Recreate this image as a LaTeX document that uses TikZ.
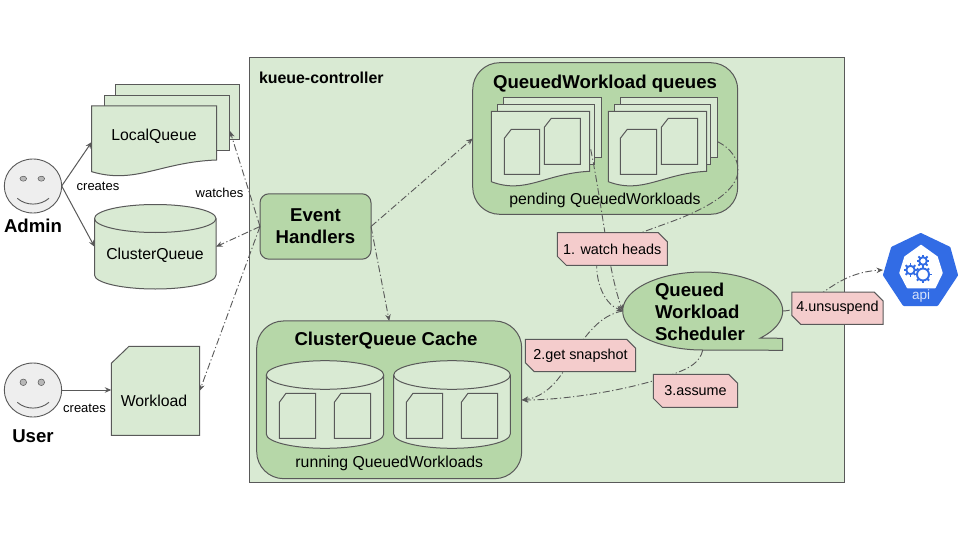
\documentclass[tikz,border=0pt]{standalone}
\usepackage{fontspec}
\setmainfont{Liberation Sans}
\usetikzlibrary{arrows.meta,shapes.geometric,shapes.misc}
\definecolor{paleg}{HTML}{D9EAD3}
\definecolor{midg}{HTML}{B6D7A8}
\definecolor{pinkb}{HTML}{F4CCCC}
\definecolor{faceg}{HTML}{EEEEEE}
\definecolor{eyeg}{HTML}{B7B7B7}
\definecolor{linec}{HTML}{595959}
\definecolor{kblue}{HTML}{326CE5}
\tikzset{
  shapeline/.style={draw=linec,line width=1pt,line join=miter},
  frame/.style={rectangle,draw=none,inner sep=0pt,outer sep=0pt,minimum width=#1},
  txt/.style={inner sep=0pt,outer sep=0pt,text=black},
  small/.style={txt,font=\fontsize{13}{15}\selectfont},
  body/.style={txt,font=\fontsize{15.8}{19}\selectfont},
  head/.style={txt,font=\fontsize{18.6}{22}\selectfont\bfseries},
  roundbox/.style={rectangle,rounded corners=#1,draw=linec,line width=1pt,fill=midg,inner sep=0pt,outer sep=0pt},
  face/.style={ellipse,draw=linec,line width=0.9pt,fill=faceg,inner sep=0pt,outer sep=0pt,minimum width=57.4pt,minimum height=54pt},
  eye/.style={ellipse,draw=linec,line width=0.5pt,fill=eyeg,inner sep=0pt,outer sep=0pt,minimum width=6.6pt,minimum height=#1},
  solidarrow/.style={draw=linec,line width=1pt,-{Stealth[length=6.5pt,width=5.5pt]}},
  dd/.style={draw=linec,line width=0.9pt,dash pattern=on 7pt off 2.5pt on 1.2pt off 2.5pt,-{Stealth[length=6.5pt,width=5.5pt]}},
  tag/.style={chamfered rectangle,chamfered rectangle corners={north east,south west},chamfered rectangle xsep=4.5pt,chamfered rectangle ysep=4.5pt,draw=linec,line width=1pt,fill=pinkb,inner sep=0pt,outer sep=0pt,font=\fontsize{14.4}{17}\selectfont,text=black},
}
% wavy document: x0 x1 ytop yright yleft fill
\newcommand\wavedoc[6]{\path[shapeline,fill=#6] (#1,#5) -- (#1,#3) -- (#2,#3) -- (#2,#4) .. controls ({#1+0.55*(#2-#1)},{#4+2}) and ({#1+0.35*(#2-#1)},{#5+13}) .. (#1,#5) -- cycle;}
% sheet: x0 y0 x1 y1 fill
\newcommand\sheet[5]{\path[shapeline,fill=#5] (#1,#2) rectangle (#3,#4);}
% card with cut corner: x0 y0 x1 y1 cutx cuty fill
\newcommand\card[7]{\path[shapeline,fill=#7] ({#1+#5},#2) -- (#3,#2) -- (#3,#4) -- (#1,#4) -- (#1,{#2+#6}) -- cycle;}
% cylinder: x0 x1 ytop ybot ry fill
\newcommand\cyl[6]{%
  \pgfmathsetmacro\crx{(#2-#1)/2}%
  \path[shapeline,fill=#6] (#1,{#3+#5}) arc[start angle=180,end angle=0,x radius=\crx pt,y radius=#5pt] -- (#2,{#4-#5}) arc[start angle=0,end angle=-180,x radius=\crx pt,y radius=#5pt] -- cycle;
  \path[shapeline] (#1,{#3+#5}) arc[start angle=180,end angle=360,x radius=\crx pt,y radius=#5pt];}
\newcommand\gearicon[3]{%
  \draw[kblue,line width=1.9pt] (#1,#2) circle[radius=#3pt];
  \foreach \gang in {0,45,...,315}{\draw[kblue,line width=1.9pt] ({#1+#3*cos(\gang)},{#2+#3*sin(\gang)}) -- ({#1+(#3+2.6)*cos(\gang)},{#2+(#3+2.6)*sin(\gang)});}}
\begin{document}
\begin{tikzpicture}[x=1pt,y=-1pt]
\useasboundingbox (0,0) rectangle (960,540);
\fill[white] (0,0) rectangle (960,540);

% controller
\node[rectangle,draw=linec,line width=1pt,fill=paleg,inner sep=0pt,outer sep=0pt,minimum width=595pt,minimum height=424pt] (ctrl) at (546.5,270) {};
\node[txt,font=\fontsize{15.9}{19}\selectfont\bfseries,anchor=west] (ctrltitle) at (259,77.5) {kueue-controller};

% people
\node[face] (admin) at (33,186) {};
\node[eye=5pt] (admineyea) at (23.3,178.7) {};
\node[eye=5pt] (admineyeb) at (41.3,178.7) {};
\draw[linec,line width=0.9pt] (17.3,198.3) .. controls (26,206) and (40,206) .. (49,198.3);
\node[head] (admintext) at (33,226) {Admin};
\node[face] (user) at (33,390) {};
\node[eye=6.6pt] (usereyea) at (23.3,382.3) {};
\node[eye=6.6pt] (usereyeb) at (41.3,382.3) {};
\draw[linec,line width=0.9pt] (17.3,402.3) .. controls (26,410) and (40,410) .. (49,402.3);
\node[head] (usertext) at (33,436) {User};

% LocalQueue
\sheet{115.7}{84.3}{239.3}{139.3}{paleg}
\sheet{104.3}{95.3}{229.7}{150.3}{paleg}
\wavedoc{91.7}{216.7}{106}{160}{171.7}{paleg}
\node[frame=125pt,minimum height=66pt] (localq) at (154.2,139) {};
\node[body] (localqtext) at (154,136.2) {LocalQueue};
\coordinate (localqport) at (230,131);

% ClusterQueue
\cyl{94.5}{216}{204.5}{289}{14}{paleg}
\node[frame=121.5pt,minimum height=84.5pt] (clusterq) at (155.25,246.75) {};
\node[body] (clusterqtext) at (155,255) {ClusterQueue};

% Workload
\card{111.3}{346.3}{199.7}{435.3}{17.7}{17}{paleg}
\node[frame=88.4pt,minimum height=89pt] (workload) at (155.5,390.8) {};
\node[body] (workloadtext) at (154,400.5) {Workload};

% Event handlers
\node[roundbox=9pt,minimum width=111pt,minimum height=65.4pt,font=\fontsize{18.6}{22}\selectfont\bfseries,align=center,text=black] (events) at (315.5,226.5) {Event\\Handlers};

% QueuedWorkload queues
\node[roundbox=27pt,minimum width=265pt,minimum height=151.6pt] (qwq) at (605.2,138.5) {};
\node[head] (qwqtitle) at (605,84) {QueuedWorkload queues};
\node[body] (qwqtext) at (605,200) {pending QueuedWorkloads};
\sheet{503.3}{97.3}{601.7}{157.3}{paleg}
\sheet{497.3}{104.3}{594.7}{164.3}{paleg}
\wavedoc{491.3}{589.7}{111.3}{171.3}{181.7}{paleg}
\card{504.3}{129.3}{539.7}{174.3}{7}{9}{paleg}
\card{544.3}{118.3}{580.3}{164.3}{7}{9}{paleg}
\sheet{620.3}{97.3}{717.7}{157.3}{paleg}
\sheet{614.3}{104.3}{710.7}{164.3}{paleg}
\wavedoc{608.3}{706.7}{111.3}{171.3}{181.7}{paleg}
\card{620.3}{129.3}{656.7}{174.3}{7}{9}{paleg}
\card{661.3}{118.3}{697.7}{164.3}{7}{9}{paleg}
\coordinate (leftqueue) at (590.7,149.3);
\coordinate (rightqueue) at (717.7,141.7);

% ClusterQueue cache
\node[roundbox=27pt,minimum width=265pt,minimum height=157.7pt] (cache) at (389.2,399.8) {};
\node[head] (cachetitle) at (386,340.5) {ClusterQueue Cache};
\node[body] (cachetext) at (389.3,463.3) {running QueuedWorkloads};
\cyl{266.3}{383.7}{360.7}{448.3}{14.3}{paleg}
\cyl{393.7}{510.3}{360.7}{448.3}{14.3}{paleg}
\card{279.3}{393.3}{315.7}{438.3}{6.7}{9}{paleg}
\card{334.3}{393.3}{370.7}{438.3}{6.7}{9}{paleg}
\card{406.3}{393.3}{442.7}{438.3}{6.7}{9}{paleg}
\card{461.3}{393.3}{497.7}{438.3}{6.7}{9}{paleg}

% scheduler
\path[shapeline,fill=midg] plot[smooth,domain=44:-270,samples=90] ({702.7+80*cos(\x)},{311+39*sin(\x)}) -- (782.7,350.3) -- (782.7,338.3) -- cycle;
\node[frame=160pt,minimum height=78.4pt] (sched) at (702.7,311) {};
\node[head,align=left,anchor=west] (schedtext) at (655,311.5) {Queued\\Workload\\Scheduler};

% api icon
\node[frame=75pt,minimum height=74pt] (api) at (920.5,270) {};
\path[fill=kblue,draw=kblue,line width=3pt,line join=round] (920.7,234.5) -- (949,248) -- (956.5,275) -- (937,304.5) -- (904,304.5) -- (884.5,275) -- (892.5,248) -- cycle;
\path[fill=white,draw=white,line width=1.5pt,line join=round] (921,245.5) -- (937,257) -- (942,273) -- (935,287.5) -- (907.5,287.5) -- (900,273) -- (905,257) -- cycle;
\gearicon{923}{274.5}{6}
\gearicon{910.5}{270}{4.2}
\gearicon{923}{261}{3.8}
\node[txt,text=white!80!kblue,font=\fontsize{13.5}{15}\selectfont] (apitext) at (921,296) {api};

% solid connectors
\draw[solidarrow] (admin.east) -- (localq.west |- 0,142);
\draw[solidarrow] (admin.east) -- (clusterq.west);
\draw[solidarrow] (user.east) -- (workload.west |- user.east);
\node[small] (createsa) at (98,186.7) {creates};
\node[small] (createsb) at (84.5,408.3) {creates};
\node[small] (watches) at (219.5,193.3) {watches};

% dash-dot connectors
\draw[dd] (events.west) -- (localqport);
\draw[dd] (events.west) -- (clusterq.east);
\draw[dd] (events.west) -- (workload.east);
\draw[dd] (events.east) -- (qwq.west);
\draw[dd] (events.east) -- (cache.north);
\draw[dd] (leftqueue) .. controls (603,210) and (608,270) .. (sched.west);
\draw[dd] (rightqueue) .. controls (730,148) and (738,158) .. (738,170) .. controls (738,190) and (710,208) .. (665,224) .. controls (620,240) and (596,250) .. (596.7,266.7) .. controls (597,285) and (605,304) .. (sched.west);
\draw[dd] (sched.west) .. controls (600,315) and (585,335) .. (570,360) .. controls (560,380) and (545,397) .. (cache.east |- 0,400);
\draw[dd] (sched.south) .. controls (700,362) and (690,368) .. (676,373) .. controls (640,388) and (570,400) .. (cache.east |- 0,400);
\draw[dd] (sched.east) .. controls (815,310) and (830,273) .. (api.west);

% tags
\node[tag,minimum width=110pt,minimum height=32.6pt] (tagone) at (612.3,249) {1. watch heads};
\node[tag,minimum width=110.4pt,minimum height=32.4pt] (tagtwo) at (580.5,355.5) {2.get snapshot};
\node[tag,minimum width=84.4pt,minimum height=33pt] (tagthree) at (695.5,390.8) {3.assume};
\node[tag,minimum width=90.4pt,minimum height=32.3pt] (tagfour) at (837.5,308.2) {4.unsuspend};
\end{tikzpicture}
\end{document}
